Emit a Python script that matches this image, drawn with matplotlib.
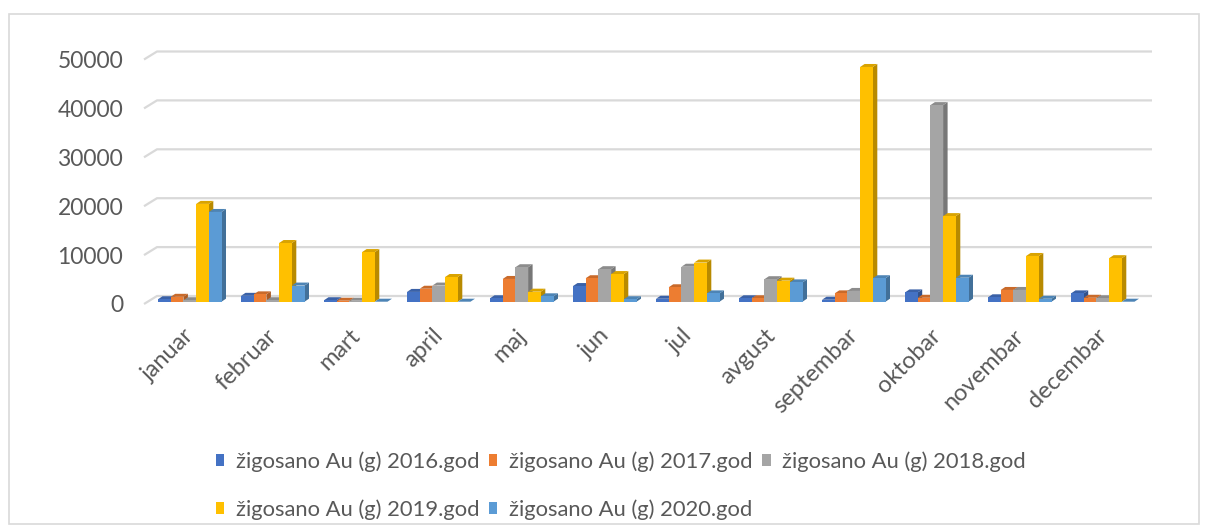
import matplotlib
matplotlib.use('Agg')
import matplotlib.pyplot as plt
from matplotlib.patches import Polygon, Rectangle, Patch
from matplotlib.transforms import ScaledTranslation
import matplotlib.colors as mcolors
import numpy as np

# ---------------- data ----------------
months = ['januar', 'februar', 'mart', 'april', 'maj', 'jun', 'jul',
          'avgust', 'septembar', 'oktobar', 'novembar', 'decembar']
series_labels = ['žigosano Au (g) 2016.god', 'žigosano Au (g) 2017.god',
                 'žigosano Au (g) 2018.god', 'žigosano Au (g) 2019.god',
                 'žigosano Au (g) 2020.god']
au_2016 = [500, 1200, 300, 2000, 700, 3200, 600, 700, 400, 1900, 900, 1700]
au_2017 = [1000, 1500, 200, 2650, 4650, 4800, 2950, 700, 1700, 800, 2400, 800]
au_2018 = [300, 300, 200, 3300, 7050, 6650, 7150, 4600, 2200, 40200, 2400, 700]
au_2019 = [20000, 12000, 10150, 5050, 2050, 5650, 8000, 4300, 48000, 17500, 9350, 8900]
au_2020 = [18350, 3300, 0, 0, 1100, 500, 1700, 3950, 4800, 4900, 600, 0]
series = [au_2016, au_2017, au_2018, au_2019, au_2020]
yticks = [0, 10000, 20000, 30000, 40000, 50000]

colors = ['#4472C4', '#ED7D31', '#A5A5A5', '#FFC000', '#5B9BD5']
text_color = '#595959'
grid_color = '#D9D9D9'
FONT = 'Lato'

# ---------------- layout ----------------
W, H = 1208, 532
fig = plt.figure(figsize=(W / 100, H / 100), dpi=100)

ax_left, ax_right = 144, 1152
y0_px = 304              # pixel row (from top) of value 0 at the front-left
ppu_y = 48.9 / 10000     # pixels per value unit
ymax = 55000
ax = fig.add_axes([ax_left / W, (H - y0_px) / H,
                   (ax_right - ax_left) / W, ymax * ppu_y / H])
ax.set_ylim(0, ymax)
cat_spacing = 83.0
first_center = 189.75
x_lo = -(first_center - ax_left) / cat_spacing
x_hi = x_lo + (ax_right - ax_left) / cat_spacing
ax.set_xlim(x_lo, x_hi)
for s in ax.spines.values():
    s.set_visible(False)

px_x = 1.0 / cat_spacing      # one pixel in x data units
px_y = 1.0 / ppu_y            # one pixel in y data units

# gridlines with perspective slant at left
for v in yticks:
    ax.plot([x_lo, x_lo + 13 * px_x, x_hi], [v, v + 8 * px_y, v + 8 * px_y],
            color=grid_color, lw=1.6, zorder=0, clip_on=False,
            solid_capstyle='butt')

# 3D-looking bars
bw = 12.7 * px_x
dx, dy = 4.5 * px_x, 3.0 * px_y
base = 2.3 * px_y


def shade(c, f):
    r, g, b = mcolors.to_rgb(c)
    return (r * f, g * f, b * f)


z = 1
for i in range(len(months)):
    for j, vals in enumerate(series):
        v = vals[i]
        c = colors[j]
        left = i + (j - 2.5) * bw
        top = base + v
        side = Polygon([(left + bw, base), (left + bw + dx, base + dy),
                        (left + bw + dx, top + dy), (left + bw, top)],
                       closed=True, facecolor=shade(c, 0.72), edgecolor='none',
                       zorder=z, clip_on=False)
        cap = Polygon([(left, top), (left + bw, top), (left + bw + dx, top + dy),
                       (left + dx, top + dy)], closed=True,
                      facecolor=shade(c, 0.85), edgecolor='none', zorder=z,
                      clip_on=False)
        front = Rectangle((left, base), bw, v, facecolor=c, edgecolor='none',
                          zorder=z + 0.5, clip_on=False)
        ax.add_patch(side)
        ax.add_patch(cap)
        ax.add_patch(front)
        z += 1

# y ticks
ax.set_yticks(yticks)
ax.set_yticklabels([str(t) for t in yticks], fontsize=16.5, color=text_color,
                   family=FONT)
ax.tick_params(axis='y', length=0, pad=15)

# x category labels (rotated 45 degrees, right end under the category)
ax.set_xticks([])
lab_tr = ax.transData + ScaledTranslation(5.5 / 100, -33 / 100,
                                          fig.dpi_scale_trans)
for i, m in enumerate(months):
    ax.text(i, 0, m, transform=lab_tr, rotation=45, rotation_mode='anchor',
            ha='right', va='baseline', fontsize=17, color=text_color,
            family=FONT, clip_on=False)

# legend (row-major order: 2016 2017 2018 / 2019 2020)
handles = [Patch(facecolor=c, edgecolor='none') for c in colors]
order = [0, 3, 1, 4, 2]
fig.legend([handles[k] for k in order], [series_labels[k] for k in order],
           ncol=3, loc='upper left', bbox_to_anchor=(216 / W, 1 - 451 / H),
           frameon=False, prop={'family': FONT, 'size': 15.8},
           labelcolor=text_color, handlelength=0.38, handleheight=0.45,
           handletextpad=0.54, columnspacing=0.43, labelspacing=1.25,
           borderpad=0, borderaxespad=0)

# outer chart border
fig.patches.append(Rectangle((9 / W, 1 - 524 / H), 1190 / W, 510 / H,
                             transform=fig.transFigure, facecolor='none',
                             edgecolor=grid_color, lw=1.2))

fig.savefig('out.png', dpi=100)
